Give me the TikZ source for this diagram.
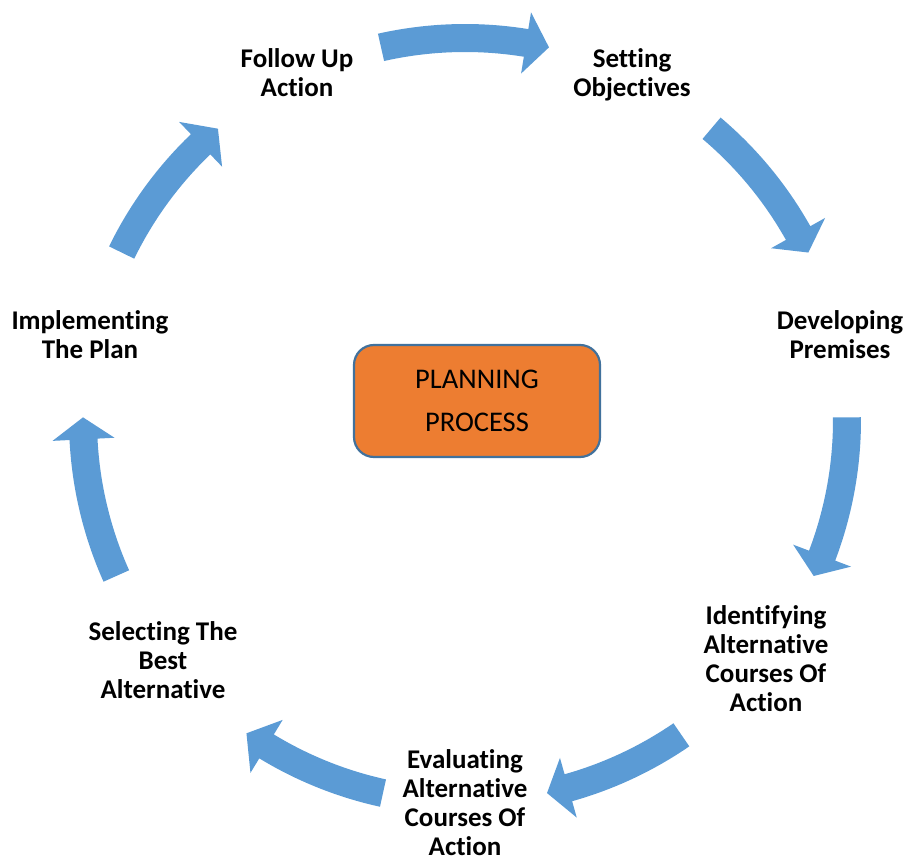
\documentclass[tikz,border=0pt]{standalone}
\usepackage{fontspec}
\setmainfont[Ligatures=CommonOff]{Carlito}
\definecolor{arrowblue}{HTML}{5B9BD5}
\definecolor{boxorange}{HTML}{ED7D31}
\definecolor{boxborder}{HTML}{41719C}
\newcommand{\cycarrow}[3]{%
  \fill[arrowblue] (#1:396pt) arc[start angle=#1, end angle=#2, radius=396pt]
    -- (#2:413pt) -- (#3:382pt) -- (#2:351pt) -- (#2:368pt)
    arc[start angle=#2, end angle=#1, radius=368pt] -- cycle;}
\begin{document}
\begin{tikzpicture}[x=1pt,y=1pt,
  lbl/.style={font=\bfseries\fontsize{27}{29}\selectfont, align=center, inner sep=0pt, text=black},
  centerbox/.style={draw=boxborder, line width=2.2pt, fill=boxorange, rounded corners=20pt,
    minimum width=246pt, minimum height=112pt, align=center,
    font=\fontsize{28.5}{43}\selectfont}]
\useasboundingbox (0,0) rectangle (904,-858);
\begin{scope}[shift={(465,-420)}]
  \cycarrow{102.7}{80.8}{77.3}
  \cycarrow{49.8}{29.3}{26.0}
  \cycarrow{0.4}{-20.8}{-24.1}
  \cycarrow{-55.5}{-74.3}{-77.6}
  \cycarrow{-102.4}{-121.3}{-124.9}
  \cycarrow{204.1}{182.9}{179.6}
  \cycarrow{154.0}{133.8}{130.3}
\end{scope}
\node[centerbox] (pp) at (477,-401) {PLANNING\\PROCESS};
\node[lbl] (fu) at (297,-73) {Follow Up\\Action};
\node[lbl] (so) at (632,-75) {Setting\\Objectives};
\node[lbl] (dp) at (840,-335) {Developing\\Premises};
\node[lbl] (ia) at (766,-659) {Identifying\\Alternative\\Courses Of\\Action};
\node[lbl] (ev) at (465,-803) {Evaluating\\Alternative\\Courses Of\\Action};
\node[lbl] (sb) at (163,-660) {Selecting The\\Best\\Alternative};
\node[lbl] (ip) at (90,-335) {Implementing\\The Plan};
\end{tikzpicture}
\end{document}
